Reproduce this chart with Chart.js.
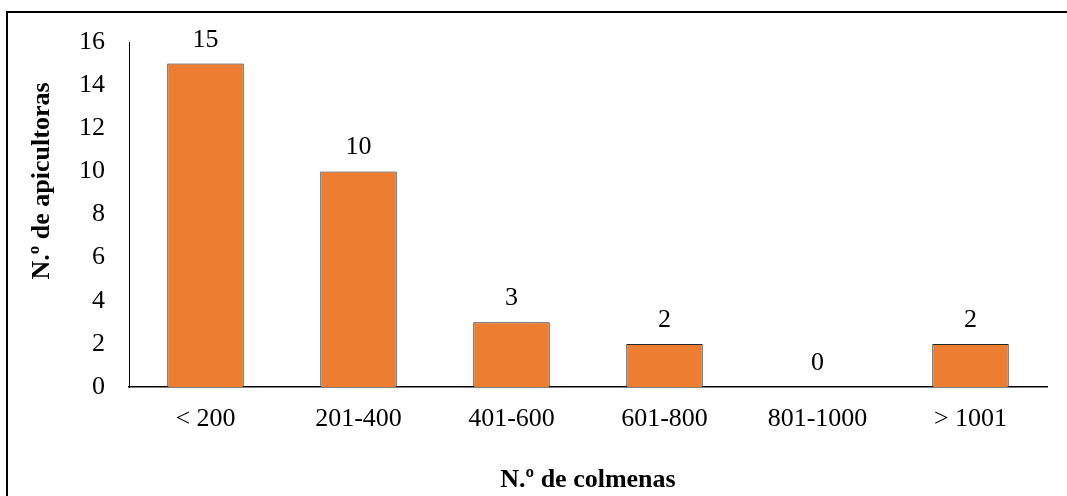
<!DOCTYPE html>
<html lang="es">
<head>
  <meta charset="UTF-8">
  <title>N.º de apicultoras por N.º de colmenas</title>
  <script src="https://cdn.jsdelivr.net/npm/chart.js"></script>
  <style>
    body { margin: 0; background: #fff; }
    .wrap { position: relative; width: 1067px; height: 496px; overflow: hidden; }
    .frame { position: absolute; left: 6px; top: 11px; width: 1200px; height: 600px;
             border-left: 2px solid #000; border-top: 2px solid #000; }
    canvas { position: absolute; left: 0; top: 0; }
  </style>
</head>
<body>
  <div class="wrap">
    <div class="frame"></div>
    <canvas id="chart" width="1067" height="496"></canvas>
  </div>

  <script>
    // categories and values
    const categories = ['< 200', '201-400', '401-600', '601-800', '801-1000', '> 1001'];
    const beekeepers = [15, 10, 3, 2, 0, 2];
    const yTicks = [0, 2, 4, 6, 8, 10, 12, 14, 16];

    const xTitle = 'N.º de colmenas';
    const yTitle = 'N.º de apicultoras';

    const serif = '"Liberation Serif", "Times New Roman", serif';

    // value labels above each bar
    const valueLabels = {
      id: 'valueLabels',
      afterDatasetsDraw(chart) {
        const ctx = chart.ctx;
        const meta = chart.getDatasetMeta(0);
        ctx.save();
        ctx.font = '26px ' + serif;
        ctx.fillStyle = '#000';
        ctx.textAlign = 'center';
        ctx.textBaseline = 'alphabetic';
        meta.data.forEach((bar, i) => {
          ctx.fillText(String(beekeepers[i]), bar.x, bar.y - 17);
        });
        ctx.restore();
      }
    };

    // rotated y title, sits a bit above the plot middle like the original
    const yAxisTitle = {
      id: 'yAxisTitle',
      afterDraw(chart) {
        const ctx = chart.ctx;
        ctx.save();
        ctx.translate(42, 181);
        ctx.rotate(-Math.PI / 2);
        ctx.font = 'bold 26px ' + serif;
        ctx.fillStyle = '#000';
        ctx.textAlign = 'center';
        ctx.textBaseline = 'middle';
        ctx.fillText(yTitle, 0, 0);
        ctx.restore();
      }
    };

    new Chart(document.getElementById('chart'), {
      type: 'bar',
      data: {
        labels: categories,
        datasets: [{
          data: beekeepers,
          backgroundColor: '#ED7D31',
          borderColor: '#262626',
          borderWidth: 1,
          barPercentage: 0.5,
          categoryPercentage: 1.0
        }]
      },
      options: {
        responsive: false,
        animation: false,
        layout: { padding: { top: 42, right: 20, bottom: 0, left: 0 } },
        plugins: {
          legend: { display: false },
          tooltip: { enabled: false }
        },
        scales: {
          x: {
            grid: { display: false, drawTicks: false },
            border: { color: '#000', width: 1.5 },
            ticks: { color: '#000', padding: 17, font: { family: serif, size: 26 } },
            title: {
              display: true,
              text: xTitle,
              color: '#000',
              padding: 0,
              font: { family: serif, size: 26, weight: 'bold' }
            },
            afterFit(scale) { scale.height = 109; }
          },
          y: {
            min: 0,
            max: 16,
            afterBuildTicks(scale) { scale.ticks = yTicks.map(v => ({ value: v })); },
            grid: { display: false, drawTicks: false },
            border: { color: '#000', width: 1 },
            ticks: { color: '#000', padding: 24, font: { family: serif, size: 26 } },
            afterFit(scale) { scale.width = 129; }
          }
        }
      },
      plugins: [valueLabels, yAxisTitle]
    });
  </script>
</body>
</html>
